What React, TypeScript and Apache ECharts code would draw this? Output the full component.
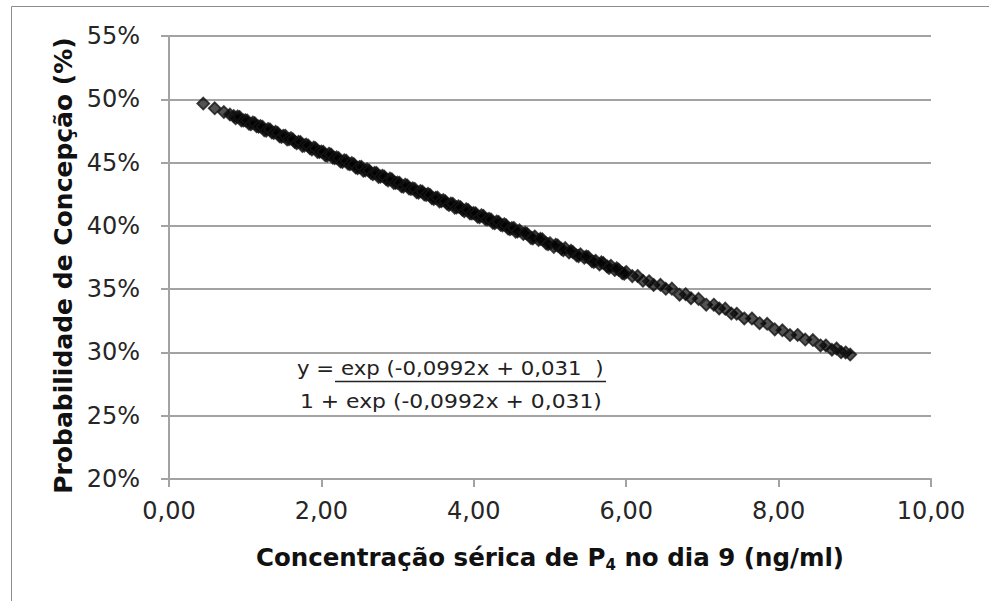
import React, { useEffect, useRef } from "react";
import * as echarts from "echarts";

// Concentração sérica de P4 no dia 9 (ng/ml) — main readings
const concentration: number[] = [
  0.45, 0.6, 0.72, 0.8, 0.85, 0.9, 0.95, 1.0, 1.05, 1.1, 1.15, 1.2, 1.25, 1.3, 1.35, 1.4, 1.45,
  1.5, 1.55, 1.6, 1.65, 1.7, 1.75, 1.8, 1.85, 1.9, 1.95, 2.0, 2.05, 2.1, 2.15, 2.2, 2.25, 2.3,
  2.35, 2.4, 2.45, 2.5, 2.55, 2.6, 2.65, 2.7, 2.75, 2.8, 2.85, 2.9, 2.95, 3.0, 3.05, 3.1, 3.15,
  3.2, 3.25, 3.3, 3.35, 3.4, 3.45, 3.5, 3.55, 3.6, 3.65, 3.7, 3.75, 3.8, 3.85, 3.9, 3.95, 4.0,
  4.05, 4.1, 4.15, 4.2, 4.25, 4.3, 4.35, 4.4, 4.45, 4.5, 4.55, 4.6, 4.65, 4.7, 4.75, 4.8, 4.85,
  4.9, 4.95, 5.0, 5.05, 5.1, 5.15, 5.2, 5.25, 5.3, 5.35, 5.4, 5.45, 5.5, 5.55, 5.6, 5.65, 5.7,
  5.75, 5.8, 5.85, 5.9, 5.95, 6.0, 6.08, 6.15, 6.22, 6.3, 6.36, 6.45, 6.52, 6.6, 6.7, 6.78,
  6.85, 6.95, 7.05, 7.15, 7.22, 7.3, 7.38, 7.45, 7.55, 7.65, 7.75, 7.85, 7.95, 8.05, 8.15,
  8.25, 8.35, 8.45, 8.55, 8.62, 8.7, 8.76, 8.82, 8.88, 8.94,
];

// Probabilidade de Concepção (%) — main readings
const probability: number[] = [
  49.66, 49.29, 48.99, 48.79, 48.67, 48.64, 48.32, 48.35, 48.06, 48.17, 47.87, 47.88, 47.56,
  47.66, 47.38, 47.43, 47.08, 47.11, 46.82, 46.93, 46.63, 46.64, 46.32, 46.42, 46.14, 46.19,
  45.84, 45.87, 45.58, 45.7, 45.39, 45.41, 45.09, 45.19, 44.91, 44.96, 44.62, 44.65, 44.35,
  44.47, 44.17, 44.19, 43.86, 43.96, 43.69, 43.74, 43.39, 43.42, 43.13, 43.25, 42.95, 42.97,
  42.65, 42.75, 42.48, 42.53, 42.19, 42.22, 41.93, 42.04, 41.74, 41.76, 41.44, 41.54, 41.27,
  41.32, 40.98, 41.01, 40.72, 40.84, 40.54, 40.56, 40.25, 40.35, 40.08, 40.13, 39.79, 39.82,
  39.53, 39.65, 39.35, 39.37, 39.05, 39.16, 38.89, 38.94, 38.6, 38.63, 38.34, 38.45, 38.18,
  38.24, 37.9, 37.93, 37.65, 37.75, 37.48, 37.54, 37.2, 37.24, 36.95, 37.06, 36.79, 36.84,
  36.51, 36.54, 36.26, 36.36, 36.03, 36.04, 35.66, 35.63, 35.33, 35.34, 35.03, 35.04, 34.56,
  34.6, 34.28, 34.23, 33.77, 33.77, 33.47, 33.46, 33.07, 33.06, 32.68, 32.68, 32.31, 32.26,
  31.82, 31.75, 31.37, 31.38, 31.02, 30.98, 30.55, 30.55, 30.21, 30.31, 30.02, 30.0, 29.83,
];

// Additional readings in the dense part of the cloud
const concentrationDense: number[] = [
  0.875, 0.925, 0.975, 1.025, 1.075, 1.125, 1.175, 1.225, 1.275, 1.325, 1.375, 1.425, 1.475,
  1.525, 1.575, 1.625, 1.675, 1.725, 1.775, 1.825, 1.875, 1.925, 1.975, 2.025, 2.075, 2.125,
  2.175, 2.225, 2.275, 2.325, 2.375, 2.425, 2.475, 2.525, 2.575, 2.625, 2.675, 2.725, 2.775,
  2.825, 2.875, 2.925, 2.975, 3.025, 3.075, 3.125, 3.175, 3.225, 3.275, 3.325, 3.375, 3.425,
  3.475, 3.525, 3.575, 3.625, 3.675, 3.725, 3.775, 3.825, 3.875, 3.925, 3.975, 4.025, 4.075,
  4.125, 4.175, 4.225, 4.275, 4.325, 4.375, 4.425, 4.475, 4.525, 4.575, 4.675, 4.775, 4.875,
  4.975, 5.075, 5.175, 5.275, 5.375, 5.475, 5.575, 5.675, 5.775, 5.875, 5.975,
];

const probabilityDense: number[] = [
  48.51, 48.6, 48.32, 48.33, 48.02, 48.11, 47.83, 47.83, 47.52, 47.62, 47.33, 47.34, 47.02,
  47.12, 46.84, 46.84, 46.53, 46.62, 46.34, 46.35, 46.03, 46.13, 45.84, 45.85, 45.54, 45.64,
  45.35, 45.36, 45.05, 45.15, 44.86, 44.87, 44.56, 44.66, 44.37, 44.38, 44.07, 44.17, 43.88,
  43.89, 43.58, 43.68, 43.39, 43.4, 43.09, 43.19, 42.91, 42.92, 42.61, 42.71, 42.43, 42.44,
  42.13, 42.23, 41.95, 41.95, 41.64, 41.74, 41.46, 41.47, 41.16, 41.26, 40.98, 40.99, 40.68,
  40.78, 40.5, 40.51, 40.21, 40.31, 40.03, 40.04, 39.73, 39.83, 39.55, 39.45, 39.01, 38.98,
  38.54, 38.51, 38.07, 38.04, 37.61, 37.58, 37.15, 37.12, 36.68, 36.65, 36.22,
];

const equationNumerator = "y = exp (-0,0992x + 0,031  )";
const equationDenominator = "1 + exp (-0,0992x + 0,031)";

const xTitle = "Concentração sérica de P{sub|4} no dia 9 (ng/ml)";
const yTitle = "Probabilidade de Concepção (%)";

export default function App() {
  const ref = useRef<HTMLDivElement>(null);

  useEffect(() => {
    if (!ref.current) return;
    const chart = echarts.init(ref.current, null, { renderer: "svg" });
    const data = [
      ...concentration.map((x, i) => [x, probability[i]]),
      ...concentrationDense.map((x, i) => [x, probabilityDense[i]]),
    ];
    const axisGray = "#a3a3a3";
    const labelFont = "DejaVu Sans";

    chart.setOption({
      animation: false,
      backgroundColor: "#ffffff",
      grid: { left: 169, right: 58, top: 36, bottom: 122, containLabel: false },
      xAxis: {
        type: "value",
        min: 0,
        max: 10,
        interval: 2,
        axisLine: { show: true, onZero: false, lineStyle: { color: axisGray, width: 2 } },
        axisTick: { show: true, inside: false, length: 8, lineStyle: { color: axisGray, width: 2 } },
        splitLine: { show: false },
        axisLabel: {
          fontFamily: labelFont,
          fontSize: 24,
          color: "#262626",
          margin: 20,
          formatter: (v: number) => v.toFixed(2).replace(".", ","),
        },
        name: xTitle,
        nameLocation: "middle",
        nameGap: 63,
        nameTextStyle: {
          fontFamily: labelFont,
          fontWeight: "bold",
          fontSize: 24.5,
          color: "#111111",
          lineHeight: 30,
          rich: {
            sub: {
              fontFamily: labelFont,
              fontWeight: "bold",
              fontSize: 15,
              color: "#111111",
              lineHeight: 30,
              verticalAlign: "bottom",
            },
          },
        },
      },
      yAxis: {
        type: "value",
        min: 20,
        max: 55,
        interval: 5,
        axisLine: { show: true, lineStyle: { color: axisGray, width: 2 } },
        axisTick: { show: true, inside: false, length: 8, lineStyle: { color: axisGray, width: 2 } },
        splitLine: { show: true, lineStyle: { color: axisGray, width: 2 } },
        axisLabel: {
          fontFamily: labelFont,
          fontSize: 24,
          color: "#262626",
          margin: 29,
          formatter: "{value}%",
        },
        name: yTitle,
        nameLocation: "middle",
        nameGap: 93,
        nameTextStyle: {
          fontFamily: labelFont,
          fontWeight: "bold",
          fontSize: 25,
          color: "#111111",
          padding: [0, 16, 0, 0],
        },
      },
      series: [
        {
          type: "scatter",
          data,
          symbol: "diamond",
          symbolSize: 12,
          itemStyle: {
            color: "rgba(0,0,0,0.85)",
            borderColor: "#151515",
            borderWidth: 1.8,
          },
        },
      ],
      graphic: [
        {
          type: "rect",
          z: -10,
          shape: { x: 11.5, y: 6.5, width: 1000, height: 700 },
          style: { fill: "none", stroke: "#8c8c8c", lineWidth: 1 },
        },
        {
          type: "text",
          x: 297,
          y: 368,
          scaleX: 1.12,
          style: {
            text: equationNumerator,
            font: "19px 'DejaVu Sans'",
            fill: "#222222",
            verticalAlign: "middle",
          },
        },
        {
          type: "line",
          shape: { x1: 335, y1: 381.5, x2: 606, y2: 381.5 },
          style: { stroke: "#222222", lineWidth: 1.5 },
        },
        {
          type: "text",
          x: 300,
          y: 402,
          scaleX: 1.15,
          style: {
            text: equationDenominator,
            font: "19px 'DejaVu Sans'",
            fill: "#222222",
            verticalAlign: "middle",
          },
        },
      ],
    });

    return () => chart.dispose();
  }, []);

  return (
    <div
      ref={ref}
      style={{ position: "absolute", left: 0, top: 0, width: 989, height: 601, background: "#ffffff" }}
    />
  );
}
